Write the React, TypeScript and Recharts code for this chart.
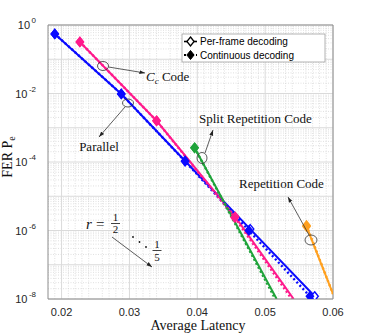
import { LineChart, Line, XAxis, YAxis, ReferenceLine } from 'recharts';

// Average latency (x) and FER (y)
const blueFrameX = [0.019, 0.0288, 0.0382, 0.0478, 0.0573];
const blueFrameY = [0.55, 9.7e-3, 1.07e-4, 1.1e-6, 1.2e-8];
const blueContX = [0.019, 0.0288, 0.0382, 0.0476, 0.0566];
const blueContY = [0.55, 9.7e-3, 1.05e-4, 1.0e-6, 1.2e-8];

const pinkFrameX = [0.0227, 0.034, 0.0456, 0.0542];
const pinkFrameY = [0.32, 1.6e-3, 2.5e-6, 1e-8];
const pinkContX = [0.0227, 0.034, 0.0455, 0.0539];
const pinkContY = [0.32, 1.6e-3, 2.4e-6, 1e-8];

const greenFrameX = [0.0396, 0.0517];
const greenFrameY = [2.6e-4, 1e-8];
const greenContX = [0.0396, 0.0515];
const greenContY = [2.6e-4, 1e-8];

const orangeFrameX = [0.0561, 0.06];
const orangeFrameY = [1.3e-6, 1.4e-8];
const orangeContX = [0.0561, 0.06];
const orangeContY = [1.4e-6, 1.4e-8];

const xTicks = [0.02, 0.03, 0.04, 0.05, 0.06];
const yTicks = [1, 1e-2, 1e-4, 1e-6, 1e-8];

const BLUE = '#0a0aff';
const PINK = '#ff1a8c';
const GREEN = '#1fa33a';
const ORANGE = '#ffa01f';

const zip = (xs: number[], ys: number[]) => xs.map((x, i) => ({ x, y: ys[i] }));

// grid positions (major at decades / ticks, minor MATLAB-style)
const yMajorGrid: number[] = [];
const yMinorGrid: number[] = [];
for (let e = 0; e >= -8; e--) {
  yMajorGrid.push(Math.pow(10, e));
  if (e > -8) for (let k = 2; k <= 9; k++) yMinorGrid.push(k * Math.pow(10, e - 1));
}
const xMinorGrid: number[] = [];
for (let i = 19; i <= 59; i++) if (i % 5 !== 0) xMinorGrid.push(i / 1000);

const diamond = (cx: number, cy: number) =>
  `M${cx},${cy - 4.5} L${cx + 3.6},${cy} L${cx},${cy + 4.5} L${cx - 3.6},${cy} Z`;

const makeDot = (color: string, filled: boolean) => (props: any) => {
  const { cx, cy, payload, index } = props;
  // markers sitting on the plot edge are clipped away in the original
  if (payload.y <= 1.05e-8 || payload.x >= 0.0599) return <g key={index} />;
  return (
    <path
      key={index}
      d={diamond(cx, cy)}
      fill={filled ? color : '#fff'}
      stroke={color}
      strokeWidth={1.4}
    />
  );
};

const XTick = (props: any) => {
  const { x, y, payload } = props;
  return (
    <text x={x} y={y + 9} textAnchor="middle" fontSize={11} fill="#262626" fontFamily="Liberation Sans, Arial, sans-serif">
      {payload.value.toFixed(2)}
    </text>
  );
};

const YTick = (props: any) => {
  const { x, y, payload } = props;
  const exp = Math.round(Math.log10(payload.value));
  return (
    <text x={x - 4} y={y + 4} textAnchor="end" fontSize={11} fill="#262626" fontFamily="Liberation Sans, Arial, sans-serif">
      <tspan>10</tspan>
      <tspan dx={1.5} dy={-6} fontSize={8}>{exp === 0 ? '0' : String(exp)}</tspan>
    </text>
  );
};

const serif = 'Liberation Serif, Times New Roman, serif';

export default function App() {
  const series = [
    { key: 'bf', data: zip(blueFrameX, blueFrameY), color: BLUE, dotted: false },
    { key: 'pf', data: zip(pinkFrameX, pinkFrameY), color: PINK, dotted: false },
    { key: 'gf', data: zip(greenFrameX, greenFrameY), color: GREEN, dotted: false },
    { key: 'of', data: zip(orangeFrameX, orangeFrameY), color: ORANGE, dotted: false },
    { key: 'bc', data: zip(blueContX, blueContY), color: BLUE, dotted: true },
    { key: 'pc', data: zip(pinkContX, pinkContY), color: PINK, dotted: true },
    { key: 'gc', data: zip(greenContX, greenContY), color: GREEN, dotted: true },
    { key: 'oc', data: zip(orangeContX, orangeContY), color: ORANGE, dotted: true },
  ];

  return (
    <div style={{ position: 'absolute', left: 0, top: 0, width: 368, height: 336, background: '#fff' }}>
      <LineChart width={368} height={336} margin={{ top: 25, right: 35, left: 0, bottom: 0 }}>
        <XAxis
          type="number"
          dataKey="x"
          domain={[0.018, 0.06]}
          ticks={xTicks}
          allowDataOverflow
          height={37}
          tick={<XTick />}
          tickLine={false}
          axisLine={{ stroke: '#8c8c8c' }}
        />
        <YAxis
          type="number"
          dataKey="y"
          scale="log"
          domain={[1e-8, 1]}
          ticks={yTicks}
          allowDataOverflow
          width={48}
          tick={<YTick />}
          tickLine={false}
          axisLine={{ stroke: '#8c8c8c' }}
        />
        {yMinorGrid.map(v => (
          <ReferenceLine key={'ym' + v} y={v} stroke="#d2d2d2" strokeDasharray="1 1.5" strokeWidth={0.7} />
        ))}
        {xMinorGrid.map(v => (
          <ReferenceLine key={'xm' + v} x={v} stroke="#d2d2d2" strokeDasharray="1 1.5" strokeWidth={0.7} />
        ))}
        {yMajorGrid.map(v => (
          <ReferenceLine key={'yM' + v} y={v} stroke="#dadada" strokeWidth={1} />
        ))}
        {xTicks.map(v => (
          <ReferenceLine key={'xM' + v} x={v} stroke="#dadada" strokeWidth={1} />
        ))}
        <ReferenceLine y={1} stroke="#8c8c8c" />
        <ReferenceLine x={0.06} stroke="#8c8c8c" />
        {series.map(s => (
          <Line
            key={s.key}
            data={s.data}
            dataKey="y"
            type="linear"
            stroke={s.color}
            strokeWidth={s.dotted ? 2.4 : 2}
            strokeDasharray={s.dotted ? '2 2.5' : undefined}
            dot={makeDot(s.color, s.dotted)}
            activeDot={false}
            isAnimationActive={false}
          />
        ))}
      </LineChart>

      <svg width={368} height={336} style={{ position: 'absolute', left: 0, top: 0, pointerEvents: 'none' }}>
        <defs>
          <marker id="ah" viewBox="0 0 10 10" refX="10" refY="5" markerWidth="7" markerHeight="7" orient="auto">
            <path d="M0,1.5 L10,5 L0,8.5 z" fill="#222" />
          </marker>
        </defs>

        {/* legend */}
        <rect x={182} y={34} width={143} height={28} fill="#fff" stroke="#a0a0a0" strokeWidth={0.8} />
        <line x1={184} y1={41.5} x2={197} y2={41.5} stroke="#000" strokeWidth={1.6} />
        <path d={diamond(190.5, 41.5)} fill="#fff" stroke="#000" strokeWidth={1.3} />
        <text x={200} y={45} fontSize={10} fontFamily="Liberation Sans, Arial, sans-serif" fill="#000">Per-frame decoding</text>
        <line x1={184} y1={55} x2={197} y2={55} stroke="#000" strokeWidth={2.2} strokeDasharray="2 2" />
        <path d={diamond(190.5, 55)} fill="#000" stroke="#000" strokeWidth={1} />
        <text x={200} y={58.5} fontSize={10} fontFamily="Liberation Sans, Arial, sans-serif" fill="#000">Continuous decoding</text>

        {/* annotations */}
        <g stroke="#333" strokeWidth={0.8} fill="none">
          <ellipse cx={103} cy={66} rx={5.5} ry={4.5} />
          <ellipse cx={128} cy={103} rx={5.5} ry={4} />
          <ellipse cx={202} cy={158} rx={5} ry={5.5} />
          <ellipse cx={311} cy={240} rx={6} ry={5} />
          <line x1={108.5} y1={67} x2={145} y2={73} markerEnd="url(#ah)" />
          <line x1={125} y1={107} x2={99} y2={137} markerEnd="url(#ah)" />
          <line x1={205} y1={153} x2={213} y2={130} markerEnd="url(#ah)" />
          <line x1={309} y1={235} x2={288} y2={197} markerEnd="url(#ah)" />
          <line x1={112} y1={237} x2={152} y2={267} markerEnd="url(#ah)" />
        </g>
        <g fontFamily={serif} fill="#111">
          <text x={146} y={81} fontSize={13}>
            <tspan fontStyle="italic">C</tspan>
            <tspan fontSize={9} fontStyle="italic" dy={3}>c</tspan>
            <tspan dy={-3}> Code</tspan>
          </text>
          <text x={99} y={151} fontSize={13} textAnchor="middle">Parallel</text>
          <text x={199} y={123} fontSize={13}>Split Repetition Code</text>
          <text x={239} y={188} fontSize={13}>Repetition Code</text>

          <text x={86} y={229} fontSize={15} fontStyle="italic">r</text>
          <text x={96} y={229} fontSize={15}>=</text>
          <text x={115.5} y={221} fontSize={11} textAnchor="middle">1</text>
          <line x1={111} y1={223.5} x2={120} y2={223.5} stroke="#111" strokeWidth={0.8} />
          <text x={115.5} y={233} fontSize={11} textAnchor="middle">2</text>
          <circle cx={133} cy={237} r={0.9} />
          <circle cx={139.5} cy={242} r={0.9} />
          <circle cx={146} cy={247} r={0.9} />
          <text x={157} y={248} fontSize={11} textAnchor="middle">1</text>
          <line x1={152.5} y1={250.5} x2={161.5} y2={250.5} stroke="#111" strokeWidth={0.8} />
          <text x={157} y={261} fontSize={11} textAnchor="middle">5</text>

          <text x={198} y={330} fontSize={14} textAnchor="middle">Average Latency</text>
          <text transform="translate(12,157) rotate(-90)" fontSize={14} textAnchor="middle">
            FER P<tspan fontSize={10} dy={3}>e</tspan>
          </text>
        </g>
      </svg>
    </div>
  );
}
